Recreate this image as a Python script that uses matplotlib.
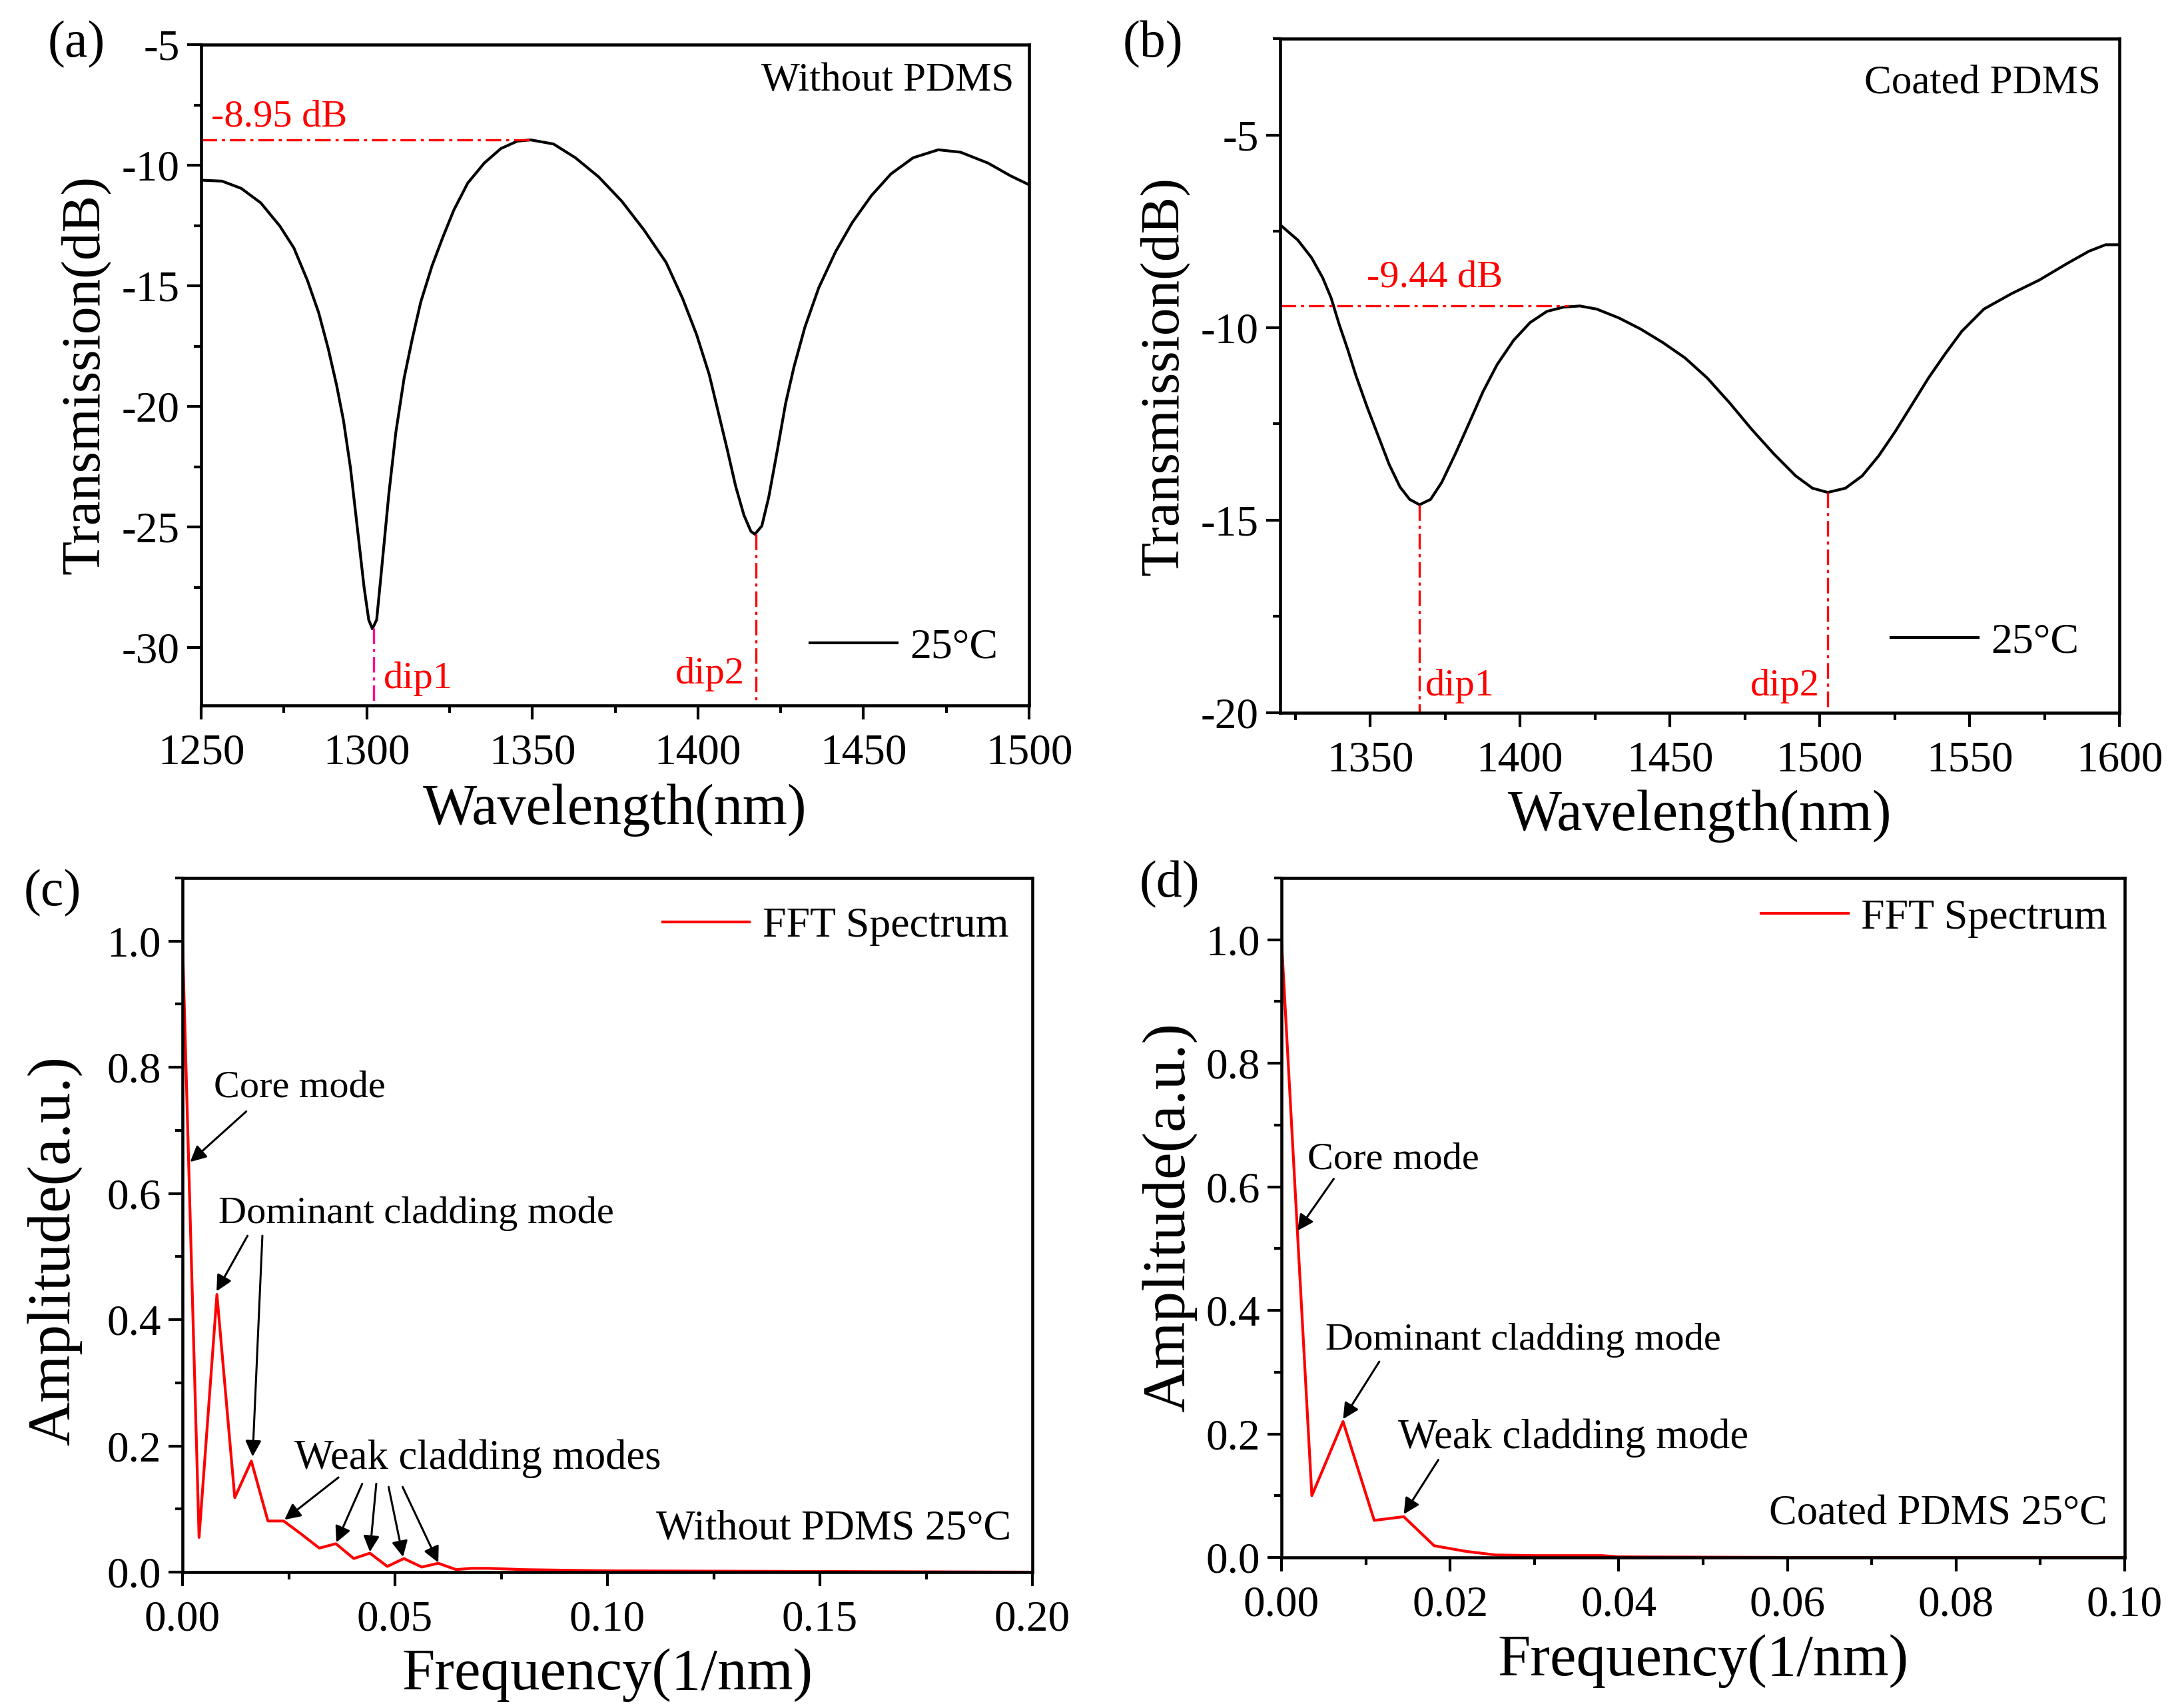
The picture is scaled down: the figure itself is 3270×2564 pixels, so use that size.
import matplotlib
matplotlib.use("Agg")
import matplotlib.pyplot as plt
from matplotlib.ticker import MultipleLocator

plt.rcParams['font.family'] = ['Liberation Serif', 'DejaVu Serif']
plt.rcParams['axes.unicode_minus'] = False

# (a) transmission without PDMS
wl_a = [1250, 1256.3, 1262.1, 1268, 1273.8, 1278, 1282.1, 1285.5, 1288.4, 1290.9, 1293,
        1295.1, 1297.1, 1299.2, 1300.6, 1301.7, 1303, 1304.6, 1306.7, 1308.8, 1311.3,
        1313.8, 1316.3, 1319.7, 1323, 1326.3, 1330.5, 1335.5, 1340.5, 1345.5, 1349.5,
        1356.4, 1363, 1370, 1377, 1383.7, 1390.4, 1395.4, 1399.6, 1403.4, 1406.3, 1408.9,
        1411.4, 1413.9, 1416, 1417.2, 1419.3, 1421.4, 1424, 1426.5, 1429, 1432.3, 1436.5,
        1441.6, 1446.6, 1452.4, 1458.3, 1465, 1472.6, 1479.3, 1487.6, 1494.4, 1500]
tr_a = [-10.62, -10.66, -10.96, -11.56, -12.53, -13.43, -14.78, -16.12, -17.62, -19.12, -20.6,
        -22.56, -24.96, -27.5, -28.85, -29.22, -28.85, -26.6, -23.6, -21.07, -18.82,
        -17.17, -15.68, -14.18, -12.98, -11.86, -10.74, -9.91, -9.31, -9.0, -8.95,
        -9.12, -9.69, -10.48, -11.49, -12.68, -14.03, -15.53, -17.02, -18.67, -20.32, -21.81,
        -23.31, -24.51, -25.18, -25.3, -24.96, -23.76, -21.81, -19.87, -18.37, -16.72, -15.08,
        -13.58, -12.38, -11.26, -10.36, -9.69, -9.36, -9.46, -9.91, -10.44, -10.81]

# (b) transmission coated PDMS
wl_b = [1320.4, 1325.9, 1330.5, 1334.2, 1337, 1339.7, 1342.5, 1345.3, 1349, 1352.7, 1356.4,
        1360, 1363.2, 1366.5, 1370.2, 1373.9, 1378.5, 1383.1, 1387.7, 1392.4, 1397.9,
        1403.4, 1409, 1414.5, 1420, 1425.6, 1433, 1440.3, 1447.7, 1455.1, 1462.5, 1469.9,
        1477.3, 1484.6, 1492, 1497.6, 1502.7, 1508.6, 1514.2, 1519.7, 1525.2, 1530.8,
        1536.3, 1541.9, 1547.4, 1554.8, 1564, 1573.2, 1582.5, 1589.8, 1595.4, 1600]
tr_b = [-7.36, -7.73, -8.19, -8.71, -9.23, -9.92, -10.56, -11.25, -12.06, -12.81, -13.56,
        -14.14, -14.46, -14.6, -14.46, -14.02, -13.27, -12.47, -11.66, -10.96, -10.33,
        -9.87, -9.58, -9.47, -9.44, -9.52, -9.75, -10.04, -10.39, -10.79, -11.31, -11.95,
        -12.64, -13.27, -13.85, -14.17, -14.28, -14.17, -13.85, -13.33, -12.7, -12.0,
        -11.31, -10.68, -10.1, -9.52, -9.12, -8.77, -8.34, -8.02, -7.85, -7.85]

# (c) FFT without PDMS
f_c = [0.0, 0.0039, 0.0081, 0.0123, 0.0162, 0.0201, 0.0238, 0.028, 0.0322, 0.0361, 0.0403,
       0.0441, 0.0482, 0.0521, 0.0563, 0.0602, 0.0644, 0.068, 0.072, 0.08, 0.09, 0.1, 0.15, 0.2]
a_c = [1.0, 0.055, 0.44, 0.118, 0.176, 0.081, 0.081, 0.06, 0.038, 0.045, 0.0215,
       0.030, 0.009, 0.0215, 0.008, 0.014, 0.004, 0.006, 0.006, 0.004, 0.003, 0.002, 0.001, 0.0]

# (d) FFT coated PDMS
f_d = [0.0, 0.0036, 0.0073, 0.011, 0.0145, 0.0181, 0.0218, 0.0254, 0.03, 0.038, 0.04, 0.06, 0.1]
a_d = [1.0, 0.10, 0.22, 0.06, 0.066, 0.019, 0.01, 0.004, 0.003, 0.003, 0.001, 0.0, 0.0]

W, H = 3270, 2564
fig = plt.figure(figsize=(W / 100, H / 100), dpi=100)

TICK = 47
TXT = 42
LEG = 46
RED = '#FF0000'
DD = (0, (7, 2.2, 1.4, 2.2))


def make_ax(l, r, t, b):
    ax = fig.add_axes([l / W, 1 - b / H, (r - l) / W, (b - t) / H])
    for s in ax.spines.values():
        s.set_linewidth(3.3)
    ax.tick_params(which='both', direction='out', top=False, right=False,
                   labelsize=TICK, width=3.0)
    ax.tick_params(which='major', length=15)
    ax.tick_params(which='minor', length=8)
    ax.tick_params(axis='x', which='major', pad=15)
    ax.tick_params(axis='y', which='major', pad=8)
    return ax


def legend(ax, loc, x, y):
    ax.legend(loc=loc, bbox_to_anchor=(x, y), frameon=False, fontsize=LEG,
              handlelength=2.05, handletextpad=0.3, borderaxespad=0, borderpad=0)


# ---- (a)
ax = make_ax(302, 1545, 67, 1059)
ax.plot(wl_a, tr_a, color='k', lw=3.0, label='25°C')
ax.set_xlim(1250, 1500)
ax.set_ylim(-32.4, -5)
ax.xaxis.set_major_locator(MultipleLocator(50))
ax.xaxis.set_minor_locator(MultipleLocator(25))
ax.yaxis.set_major_locator(MultipleLocator(5))
ax.yaxis.set_minor_locator(MultipleLocator(2.5))
ax.plot([1250, 1350], [-8.95, -8.95], color=RED, lw=2.4, ls=DD)
ax.plot([1302, 1302], [-29.2, -32.4], color='#FF0A8C', lw=2.4, ls=DD)
ax.plot([1417.5, 1417.5], [-25.3, -32.4], color=RED, lw=2.4, ls=DD)
ax.text(1253, -8.0, '-8.95 dB', color=RED, fontsize=TXT, va='center')
ax.text(1305, -31.3, 'dip1', color=RED, fontsize=TXT, va='center')
ax.text(1414, -31.1, 'dip2', color=RED, fontsize=TXT, va='center', ha='right')
ax.text(0.982, 0.945, 'Without PDMS', transform=ax.transAxes, fontsize=44, ha='right', va='center')
legend(ax, 'center right', 0.962, 0.088)
ax.set_xlabel('Wavelength(nm)', fontsize=62, labelpad=12)
ax.set_ylabel('Transmission(dB)', fontsize=60, labelpad=12)
fig.text(115 / W, 1 - 67 / H, '(a)', fontsize=56, ha='center', va='center')

# ---- (b)
ax = make_ax(1922, 3182, 58, 1070)
ax.plot(wl_b, tr_b, color='k', lw=3.0, label='25°C')
ax.set_xlim(1320, 1600)
ax.set_ylim(-20, -2.5)
ax.xaxis.set_major_locator(MultipleLocator(50))
ax.xaxis.set_minor_locator(MultipleLocator(25))
ax.yaxis.set_major_locator(MultipleLocator(5))
ax.yaxis.set_minor_locator(MultipleLocator(2.5))
ax.plot([1320, 1416.3], [-9.44, -9.44], color=RED, lw=2.4, ls=DD)
ax.plot([1366.5, 1366.5], [-14.6, -20], color=RED, lw=2.4, ls=DD)
ax.plot([1502.7, 1502.7], [-14.28, -20], color=RED, lw=2.4, ls=DD)
ax.text(1349, -8.7, '-9.44 dB', color=RED, fontsize=TXT, va='center')
ax.text(1368.5, -19.3, 'dip1', color=RED, fontsize=TXT, va='center')
ax.text(1500, -19.3, 'dip2', color=RED, fontsize=TXT, va='center', ha='right')
ax.text(0.978, 0.934, 'Coated PDMS', transform=ax.transAxes, fontsize=44, ha='right', va='center')
legend(ax, 'center right', 0.952, 0.105)
ax.set_xlabel('Wavelength(nm)', fontsize=62, labelpad=10)
ax.set_ylabel('Transmission(dB)', fontsize=60, labelpad=12)
fig.text(1731 / W, 1 - 67 / H, '(b)', fontsize=56, ha='center', va='center')

ARROW = dict(arrowstyle='-|>', color='k', lw=2.2, mutation_scale=36, shrinkA=0, shrinkB=0)

# ---- (c)
ax = make_ax(274, 1550, 1318, 2360)
ax.plot(f_c, a_c, color=RED, lw=3.0, label='FFT Spectrum')
ax.set_xlim(0, 0.2)
ax.set_ylim(0, 1.1)
ax.xaxis.set_major_locator(MultipleLocator(0.05))
ax.xaxis.set_minor_locator(MultipleLocator(0.025))
ax.yaxis.set_major_locator(MultipleLocator(0.2))
ax.yaxis.set_minor_locator(MultipleLocator(0.1))
ax.xaxis.set_major_formatter(lambda v, p: f'{v:.2f}')
ax.yaxis.set_major_formatter(lambda v, p: f'{v:.1f}')
ax.text(0.0073, 0.768, 'Core mode', fontsize=TXT, va='center')
ax.annotate('', xy=(0.0018, 0.65), xytext=(0.015, 0.73), arrowprops=ARROW)
ax.text(0.0085, 0.568, 'Dominant cladding mode', fontsize=TXT, va='center')
ax.annotate('', xy=(0.008, 0.445), xytext=(0.0153, 0.533), arrowprops=ARROW)
ax.annotate('', xy=(0.0165, 0.183), xytext=(0.0188, 0.533), arrowprops=ARROW)
ax.text(0.0264, 0.18, 'Weak cladding modes', fontsize=45, va='center')
for x0, y0, x1, y1 in [(0.0367, 0.150, 0.024, 0.083), (0.0423, 0.14, 0.0362, 0.047),
                       (0.0456, 0.14, 0.0441, 0.032), (0.0485, 0.135, 0.0519, 0.024),
                       (0.0518, 0.135, 0.0602, 0.015)]:
    ax.annotate('', xy=(x1, y1), xytext=(x0, y0), arrowprops=ARROW)
ax.text(0.975, 0.062, 'Without PDMS 25°C', transform=ax.transAxes, fontsize=45, ha='right', va='center')
legend(ax, 'center right', 0.972, 0.93)
ax.set_xlabel('Frequency(1/nm)', fontsize=64, labelpad=9)
ax.set_ylabel('Amplitude(a.u.)', fontsize=66)
ax.yaxis.set_label_coords(-0.118, 0.463)
fig.text(79 / W, 1 - 1341 / H, '(c)', fontsize=56, ha='center', va='center')

# ---- (d)
ax = make_ax(1924, 3190, 1318, 2338)
ax.plot(f_d, a_d, color=RED, lw=3.0, label='FFT Spectrum')
ax.set_xlim(0, 0.1)
ax.set_ylim(0, 1.1)
ax.xaxis.set_major_locator(MultipleLocator(0.02))
ax.xaxis.set_minor_locator(MultipleLocator(0.01))
ax.yaxis.set_major_locator(MultipleLocator(0.2))
ax.yaxis.set_minor_locator(MultipleLocator(0.1))
ax.xaxis.set_major_formatter(lambda v, p: f'{v:.2f}')
ax.yaxis.set_major_formatter(lambda v, p: f'{v:.1f}')
ax.text(0.0031, 0.644, 'Core mode', fontsize=TXT, va='center')
ax.annotate('', xy=(0.0019, 0.529), xytext=(0.0062, 0.613), arrowprops=ARROW)
ax.text(0.0052, 0.352, 'Dominant cladding mode', fontsize=TXT, va='center')
ax.annotate('', xy=(0.0073, 0.224), xytext=(0.0116, 0.317), arrowprops=ARROW)
ax.text(0.0138, 0.193, 'Weak cladding mode', fontsize=45, va='center')
ax.annotate('', xy=(0.0145, 0.07), xytext=(0.0186, 0.158), arrowprops=ARROW)
ax.text(0.979, 0.063, 'Coated PDMS 25°C', transform=ax.transAxes, fontsize=45, ha='right', va='center')
legend(ax, 'center right', 0.979, 0.941)
ax.set_xlabel('Frequency(1/nm)', fontsize=64, labelpad=10)
ax.set_ylabel('Amplitude(a.u.)', fontsize=66, labelpad=10)
fig.text(1756 / W, 1 - 1328 / H, '(d)', fontsize=56, ha='center', va='center')

fig.savefig('out.png', dpi=100)
